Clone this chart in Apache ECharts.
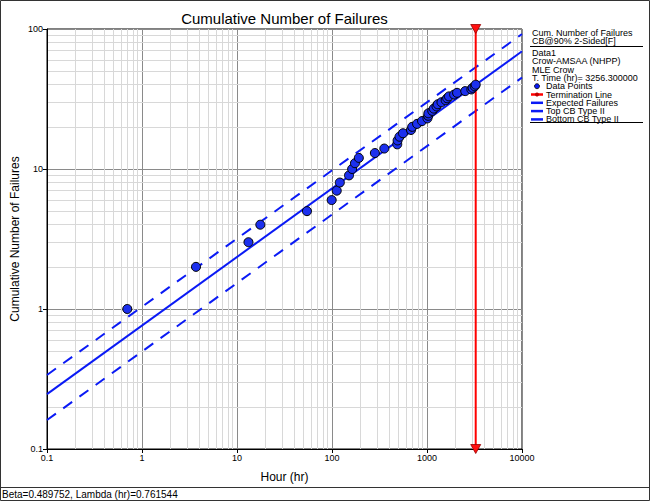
<!DOCTYPE html>
<html><head><meta charset="utf-8">
<script src="https://cdn.jsdelivr.net/npm/echarts@6/dist/echarts.min.js"></script>
<style>html,body{margin:0;padding:0;background:#fff}#c{width:650px;height:501px}</style>
</head><body><div id="c"></div><script>
// ---- data ----
const failureTimes = [0.7, 3.7, 13.2, 17.6, 54.5, 99.2, 112.2, 120.9, 151.0, 163.0,
  174.5, 191.6, 282.8, 355.2, 486.3, 490.5, 513.3, 558.4, 678.1, 699.0,
  785.9, 887.0, 1010.7, 1029.1, 1034.4, 1136.1, 1178.9, 1259.7, 1297.9, 1419.7,
  1571.7, 1629.8, 1702.4, 1928.9, 2072.3, 2525.2, 2928.5, 3016.4, 3181.0, 3256.3];
const cumulativeFailures = [1, 2, 3, 4, 5, 6, 7, 8, 9, 10, 11, 12, 13, 14, 15, 16, 17, 18, 19, 20,
  21, 22, 23, 24, 25, 26, 27, 28, 29, 30, 31, 32, 33, 34, 35, 36, 37, 38, 39, 40];
const expectedTimes = [0.1, 10000];
const expectedValues = [0.2466, 69.3];
const boundTimes = [0.1, 10000];
const topBound = [0.338, 92];
const bottomBound = [0.161, 45];
const terminationTime = 3256.3;
const terminationSpan = [0.1, 100];
const xTickLabels = ['0.1', '1', '10', '100', '1000', '10000'];
const yTickLabels = ['0.1', '1', '10', '100'];
const xDecades = [0.1, 1, 10, 100, 1000];
const yDecades = [0.1, 1, 10];
const minorMultipliers = [2, 3, 4, 5, 6, 7, 8, 9];
const titleText = 'Cumulative Number of Failures';
const xAxisName = 'Hour (hr)';
const yAxisName = 'Cumulative Number of Failures';
const legendHeader = ['Cum. Number of Failures', 'CB@90% 2-Sided[F]'];
const legendInfo = ['Data1', 'Crow-AMSAA (NHPP)', 'MLE Crow', 'T. Time (hr)= 3256.300000'];
const legendEntries = ['Data Points', 'Termination Line', 'Expected Failures', 'Top CB Type II', 'Bottom CB Type II'];
const footerText = 'Beta=0.489752, Lambda (hr)=0.761544';

// ---- build ----
const FONT = '"Liberation Sans", Arial, sans-serif';
const BLUE = '#0a1af5';
const pts = failureTimes.map((t, i) => [t, cumulativeFailures[i]]);
const expPts = expectedTimes.map((t, i) => [t, expectedValues[i]]);
const topPts = boundTimes.map((t, i) => [t, topBound[i]]);
const botPts = boundTimes.map((t, i) => [t, bottomBound[i]]);
const termPts = terminationSpan.map(v => [terminationTime, v]);

const minorX = [], minorY = [];
xDecades.forEach(d => minorMultipliers.forEach(m => minorX.push({xAxis: Number((d * m).toPrecision(6))})));
yDecades.forEach(d => minorMultipliers.forEach(m => minorY.push({yAxis: Number((d * m).toPrecision(6))})));

const G = [];
function txt(x, y, s, size, extra) {
  G.push(Object.assign({type: 'text', x: x, y: y, silent: true,
    style: Object.assign({text: s, fill: '#000', fontSize: size, fontFamily: FONT,
      textVerticalAlign: 'middle'}, extra || {})}));
}
function line(x1, y1, x2, y2, color, w) {
  G.push({type: 'line', silent: true, shape: {x1, y1, x2, y2}, style: {stroke: color, lineWidth: w}});
}
// outer border & footer
G.push({type: 'rect', silent: true, shape: {x: 0.5, y: 0.5, width: 649, height: 500}, style: {fill: null, stroke: '#333', lineWidth: 1}});
line(0, 487.5, 650, 487.5, '#333', 1);
txt(2, 494, footerText, 10);
// title
txt(284.5, 18, titleText, 15, {textAlign: 'center'});
// legend block
const LX = 532;
const ROW = 8.3;
let ly = 33;
txt(LX, ly, legendHeader[0], 9); ly += ROW;
txt(LX, ly, legendHeader[1], 9);
line(530, 46.5, 643, 46.5, '#000', 1);
ly = 53;
legendInfo.forEach(s => { txt(LX, ly, s, 9); ly += ROW; });
legendEntries.forEach((s, i) => {
  if (i === 0) {
    G.push({type: 'circle', silent: true, shape: {cx: 537, cy: ly, r: 2.5}, style: {fill: BLUE, stroke: '#000', lineWidth: 0.8}});
  } else if (i === 1) {
    line(531, ly, 543, ly, '#ff0000', 2.5);
    G.push({type: 'circle', silent: true, shape: {cx: 537, cy: ly, r: 2}, style: {fill: '#c00000'}});
  } else {
    line(531, ly, 543, ly, BLUE, 2.5);
  }
  txt(546, ly, s, 9);
  ly += ROW;
});
line(530, 122.5, 643, 122.5, '#000', 1);

const chart = echarts.init(document.getElementById('c'), null, {renderer: 'svg'});
chart.setOption({
  animation: false,
  backgroundColor: '#fff',
  grid: {left: 47, top: 29, right: 128, bottom: 52, show: true, borderColor: '#000', borderWidth: 1,
    backgroundColor: 'transparent', containLabel: false, outerBoundsMode: 'none'},
  xAxis: {
    type: 'log', logBase: 10, min: 0.1, max: 10000,
    name: xAxisName, nameLocation: 'middle', nameGap: 22, nameMoveOverlap: false,
    nameTextStyle: {fontSize: 12, color: '#000', fontFamily: FONT},
    axisLine: {lineStyle: {color: '#000'}},
    axisTick: {show: true, length: 4, lineStyle: {color: '#000'}},
    axisLabel: {fontSize: 9, color: '#000', fontFamily: FONT, margin: 4,
      formatter: v => xTickLabels[Math.round(Math.log10(v)) + 1]},
    splitLine: {show: true, lineStyle: {color: '#8a8a8a', width: 1}}
  },
  yAxis: {
    type: 'log', logBase: 10, min: 0.1, max: 100,
    name: yAxisName, nameLocation: 'middle', nameGap: 26, nameRotate: 90, nameMoveOverlap: false,
    nameTextStyle: {fontSize: 12, color: '#000', fontFamily: FONT},
    axisLine: {lineStyle: {color: '#000'}},
    axisTick: {show: true, length: 4, lineStyle: {color: '#000'}},
    axisLabel: {fontSize: 9, color: '#000', fontFamily: FONT, margin: 4,
      formatter: v => yTickLabels[Math.round(Math.log10(v)) + 1]},
    splitLine: {show: true, lineStyle: {color: '#8a8a8a', width: 1}}
  },
  graphic: G,
  series: [
    {name: 'grid-minor', type: 'line', data: [], z: 0, silent: true, symbol: 'none',
      markLine: {silent: true, z: 0, symbol: 'none', animation: false, label: {show: false},
        lineStyle: {color: '#d8d8d8', type: 'solid', width: 1},
        data: minorX.concat(minorY)}},
    {name: 'Top CB Type II', type: 'line', data: topPts, symbol: 'none', z: 10,
      lineStyle: {color: BLUE, width: 2, type: [11, 9]}},
    {name: 'Bottom CB Type II', type: 'line', data: botPts, symbol: 'none', z: 10,
      lineStyle: {color: BLUE, width: 2, type: [11, 9]}},
    {name: 'Expected Failures', type: 'line', data: expPts, symbol: 'none', z: 10,
      lineStyle: {color: BLUE, width: 2}},
    {name: 'Termination Line', type: 'line', data: termPts, z: 11, clip: false,
      symbol: 'triangle', symbolRotate: 180, symbolSize: [10, 9], showSymbol: true,
      itemStyle: {color: '#ff1010', borderColor: '#900', borderWidth: 0.8},
      lineStyle: {color: '#ff0000', width: 2}},
    {name: 'Data Points', type: 'scatter', data: pts, z: 12, symbol: 'circle', symbolSize: 9,
      itemStyle: {color: '#1c30ee', borderColor: '#000', borderWidth: 1, opacity: 1}}
  ]
});
</script></body></html>
